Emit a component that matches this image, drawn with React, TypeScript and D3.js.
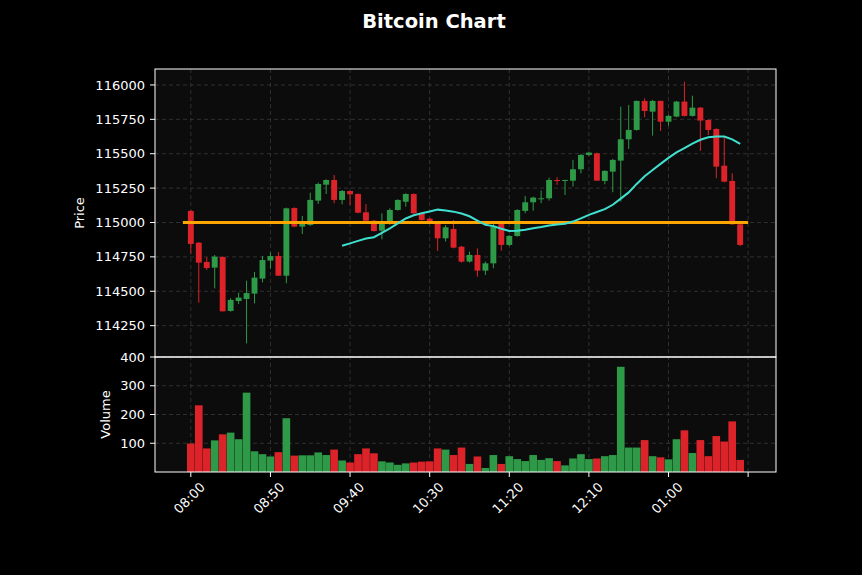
import * as d3 from 'd3';

// 5-minute candles, 08:00 onward
const TICK_INDEX = [0, 10, 20, 30, 40, 50, 60, 70];
const TICK_LABELS = ['08:00', '08:50', '09:40', '10:30', '11:20', '12:10', '01:00', ''];

const OPEN = [
  115084, 114853, 114713, 114672, 114749, 114357, 114429, 114444, 114483, 114592,
  114723, 114756, 114613, 115105, 114970, 114982, 115159, 115275, 115309, 115164,
  115229, 115207, 115074, 115013, 114941, 114989, 115091, 115151, 115207, 115067,
  115028, 114999, 114885, 114953, 114824, 114716, 114764, 114650, 114703, 114989,
  114837, 114902, 115084, 115147, 115169, 115176, 115309, 115302, 115304, 115387,
  115491, 115503, 115302, 115370, 115450, 115605, 115673, 115884, 115806, 115884,
  115733, 115770, 115879, 115775, 115835, 115745, 115680, 115413, 115302, 114987,
];
const HIGH = [
  115091, 114858, 114747, 114764, 114754, 114449, 114490, 114577, 114640, 114756,
  114783, 114785, 115108, 115110, 115047, 115217, 115290, 115314, 115345, 115236,
  115231, 115212, 115134, 115018, 115067, 115103, 115168, 115212, 115212, 115071,
  115033, 115004, 114982, 115018, 114829, 114788, 114812, 114716, 114994, 114994,
  114909, 115096, 115193, 115188, 115232, 115326, 115329, 115312, 115455, 115498,
  115515, 115508, 115380, 115462, 115842, 115855, 115886, 115903, 115891, 115886,
  115782, 115884, 116024, 115922, 115840, 115750, 115685, 115624, 115358, 114992,
];
const LOW = [
  114776, 114417, 114655, 114521, 114354, 114352, 114407, 114121, 114412, 114565,
  114664, 114613, 114558, 114965, 114916, 114975, 115135, 115207, 115139, 115132,
  115127, 115067, 115006, 114933, 114878, 114982, 115086, 115115, 115062, 115013,
  115004, 114793, 114861, 114812, 114708, 114708, 114606, 114619, 114667, 114795,
  114829, 114897, 115067, 115086, 115140, 115159, 115273, 115200, 115261, 115358,
  115484, 115304, 115278, 115220, 115152, 115535, 115668, 115765, 115632, 115665,
  115704, 115765, 115770, 115770, 115520, 115636, 115321, 115292, 114982, 114829,
];
const CLOSE = [
  114844, 114708, 114669, 114752, 114354, 114437, 114454, 114487, 114599, 114727,
  114756, 114613, 115103, 114970, 114989, 115164, 115280, 115309, 115164, 115229,
  115205, 115071, 115013, 114938, 114994, 115091, 115164, 115207, 115067, 115018,
  115008, 114885, 114965, 114817, 114715, 114764, 114650, 114703, 114970, 114837,
  114902, 115091, 115147, 115181, 115176, 115309, 115302, 115309, 115387, 115491,
  115508, 115304, 115375, 115455, 115605, 115673, 115884, 115811, 115884, 115733,
  115775, 115879, 115775, 115835, 115741, 115673, 115406, 115297, 114987, 114837,
];
const VOLUME = [
  99, 232, 82, 110, 131, 137, 114, 276, 72, 62,
  54, 69, 187, 57, 58, 58, 68, 59, 78, 40,
  33, 62, 82, 65, 37, 33, 25, 30, 33, 36,
  37, 82, 78, 59, 85, 28, 54, 14, 59, 28,
  55, 45, 38, 59, 42, 48, 38, 23, 47, 62,
  45, 47, 55, 59, 366, 85, 85, 111, 55, 51,
  44, 114, 145, 66, 111, 55, 125, 106, 176, 42,
];
const PRICE_TICKS = [114250, 114500, 114750, 115000, 115250, 115500, 115750, 116000];
const VOLUME_TICKS = [100, 200, 300, 400];
const HLINE = 115000;
const MAV = 20;

const W = 862;
const H = 575;
const LEFT = 155;
const RIGHT = 776;
const PRICE_TOP = 69;
const SPLIT = 357;
const VOL_BOTTOM = 472;

const UP = '#2e9a48';
const DOWN = '#dc2329';
const GRID = '#3a3a3a';
const FONT = 'DejaVu Sans, sans-serif';

export default function App() {
  const x = d3.scaleLinear().domain([-4.5, 73.5]).range([LEFT, RIGHT]);
  const y = d3.scaleLinear().domain([114022, 116116]).range([SPLIT, PRICE_TOP]);
  const yv = d3.scaleLinear().domain([0, 400]).range([VOL_BOTTOM, SPLIT]);
  const step = x(1) - x(0);

  const mav = CLOSE.map((_, i) =>
    i < MAV - 1 ? null : d3.mean(CLOSE.slice(i - MAV + 1, i + 1)) as number
  );
  const mavLine = d3.line<number | null>()
    .defined((d) => d != null)
    .x((_, i) => x(i))
    .y((d) => y(d as number));

  const idx = d3.range(CLOSE.length);

  return (
    <div style={{ position: 'fixed', left: 0, top: 0 }}>
      <svg width={W} height={H} style={{ display: 'block', background: '#000' }} fontFamily={FONT}>
        <text x={434} y={28} textAnchor="middle" fill="#fff" fontSize={19.5} fontWeight="bold">
          Bitcoin Chart
        </text>

        {/* panels */}
        <rect x={LEFT} y={PRICE_TOP} width={RIGHT - LEFT} height={SPLIT - PRICE_TOP} fill="#0c0c0c" />
        <rect x={LEFT} y={SPLIT} width={RIGHT - LEFT} height={VOL_BOTTOM - SPLIT} fill="#0c0c0c" />

        {/* grid */}
        <g stroke={GRID} strokeWidth={0.8} strokeDasharray="4,3">
          {TICK_INDEX.map((t) => (
            <line key={'gx' + t} x1={x(t)} x2={x(t)} y1={PRICE_TOP} y2={VOL_BOTTOM} />
          ))}
          {PRICE_TICKS.map((t) => (
            <line key={'gp' + t} x1={LEFT} x2={RIGHT} y1={y(t)} y2={y(t)} />
          ))}
          {VOLUME_TICKS.map((t) => (
            <line key={'gv' + t} x1={LEFT} x2={RIGHT} y1={yv(t)} y2={yv(t)} />
          ))}
        </g>

        {/* candles */}
        {idx.map((i) => {
          const up = CLOSE[i] >= OPEN[i];
          const c = up ? UP : DOWN;
          const top = y(Math.max(OPEN[i], CLOSE[i]));
          const bot = y(Math.min(OPEN[i], CLOSE[i]));
          return (
            <g key={'c' + i}>
              <line x1={x(i)} x2={x(i)} y1={y(HIGH[i])} y2={y(LOW[i])} stroke={c} strokeWidth={1} />
              <rect x={x(i) - step * 0.37} width={step * 0.74} y={top} height={Math.max(bot - top, 1)} fill={c} />
            </g>
          );
        })}

        {/* horizontal level */}
        <line x1={x(-1)} x2={x(70)} y1={y(HLINE)} y2={y(HLINE)} stroke="#ffa500" strokeWidth={3} />

        {/* moving average */}
        <path d={mavLine(mav) || ''} fill="none" stroke="#40e0d0" strokeWidth={2} />

        {/* volume */}
        {idx.map((i) => (
          <rect
            key={'v' + i}
            x={x(i) - step * 0.48}
            width={step * 0.96}
            y={yv(VOLUME[i])}
            height={yv(0) - yv(VOLUME[i])}
            fill={CLOSE[i] >= OPEN[i] ? UP : DOWN}
          />
        ))}

        {/* frames */}
        <rect x={LEFT} y={PRICE_TOP} width={RIGHT - LEFT} height={SPLIT - PRICE_TOP} fill="none" stroke="#fff" strokeWidth={1} />
        <rect x={LEFT} y={SPLIT} width={RIGHT - LEFT} height={VOL_BOTTOM - SPLIT} fill="none" stroke="#fff" strokeWidth={1} />

        {/* price axis */}
        {PRICE_TICKS.map((t) => (
          <g key={'pt' + t} transform={`translate(${LEFT},${y(t)})`}>
            <line x1={-5} x2={0} stroke="#fff" />
            <text x={-10} dy="0.35em" textAnchor="end" fill="#fff" fontSize={13}>{t}</text>
          </g>
        ))}
        {VOLUME_TICKS.map((t) => (
          <g key={'vt' + t} transform={`translate(${LEFT},${yv(t)})`}>
            <line x1={-5} x2={0} stroke="#fff" />
            <text x={-10} dy="0.35em" textAnchor="end" fill="#fff" fontSize={13}>{t}</text>
          </g>
        ))}
        <text transform={`translate(84,${(PRICE_TOP + SPLIT) / 2}) rotate(-90)`} textAnchor="middle" fill="#fff" fontSize={13}>
          Price
        </text>
        <text transform={`translate(110,${(SPLIT + VOL_BOTTOM) / 2}) rotate(-90)`} textAnchor="middle" fill="#fff" fontSize={13}>
          Volume
        </text>

        {/* time axis */}
        {TICK_INDEX.map((t, k) => (
          <g key={'xt' + t} transform={`translate(${x(t)},${VOL_BOTTOM})`}>
            <line y1={0} y2={5} stroke="#fff" />
            <text transform="translate(15,16) rotate(-45)" textAnchor="end" fill="#fff" fontSize={13}>
              {TICK_LABELS[k]}
            </text>
          </g>
        ))}
      </svg>
    </div>
  );
}
